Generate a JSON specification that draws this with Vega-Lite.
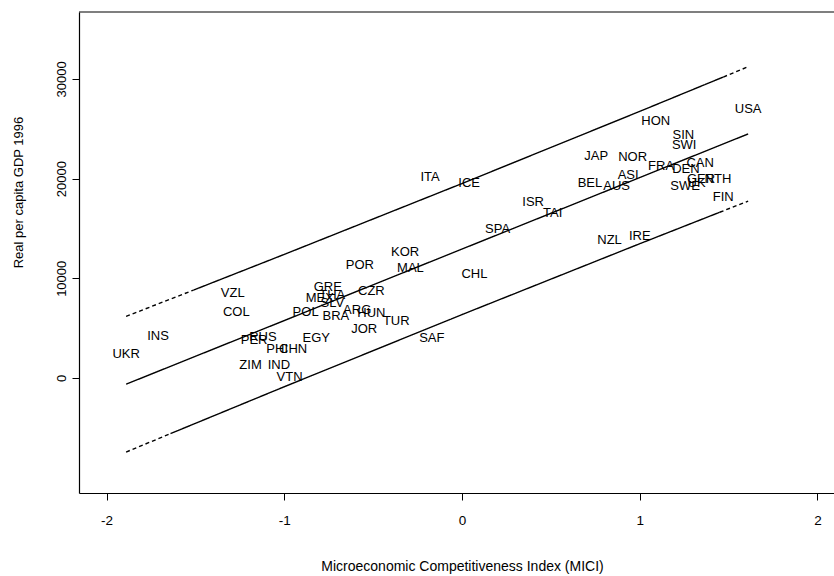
{
  "$schema": "https://vega.github.io/schema/vega-lite/v6.json",
  "width": 755,
  "height": 481,
  "autosize": "none",
  "padding": {"left": 79, "top": 12, "right": 0, "bottom": 83},
  "background": "white",
  "config": {
    "view": {"stroke": null},
    "axis": {
      "labelFont": "Liberation Sans",
      "labelFontSize": 13.5,
      "labelColor": "black",
      "titleFont": "Liberation Sans",
      "titleFontSize": 14,
      "titleFontWeight": "normal",
      "titleColor": "black",
      "domainColor": "black",
      "domainWidth": 1.2,
      "tickColor": "black",
      "tickSize": 7,
      "grid": false
    }
  },
  "datasets": {
    "countries": [
      {"code": "USA", "mici": 1.61, "gdp": 27000},
      {"code": "HON", "mici": 1.09, "gdp": 25800},
      {"code": "SIN", "mici": 1.245, "gdp": 24400},
      {"code": "SWI", "mici": 1.25, "gdp": 23400},
      {"code": "JAP", "mici": 0.755, "gdp": 22300},
      {"code": "NOR", "mici": 0.96, "gdp": 22200},
      {"code": "FRA", "mici": 1.12, "gdp": 21300},
      {"code": "CAN", "mici": 1.34, "gdp": 21600},
      {"code": "DEN", "mici": 1.26, "gdp": 21000},
      {"code": "ASI", "mici": 0.935, "gdp": 20400},
      {"code": "BEL", "mici": 0.72, "gdp": 19600},
      {"code": "AUS", "mici": 0.87, "gdp": 19300},
      {"code": "SWE", "mici": 1.255, "gdp": 19300},
      {"code": "UK", "mici": 1.32, "gdp": 19600},
      {"code": "GER", "mici": 1.345, "gdp": 20000},
      {"code": "NTH", "mici": 1.44, "gdp": 20000},
      {"code": "FIN", "mici": 1.47, "gdp": 18100},
      {"code": "IRE", "mici": 1.0, "gdp": 14200},
      {"code": "NZL", "mici": 0.83, "gdp": 13800},
      {"code": "ISR", "mici": 0.4, "gdp": 17600},
      {"code": "TAI", "mici": 0.51, "gdp": 16500},
      {"code": "ITA", "mici": -0.18, "gdp": 20200},
      {"code": "ICE", "mici": 0.04, "gdp": 19600},
      {"code": "SPA", "mici": 0.2, "gdp": 14900},
      {"code": "KOR", "mici": -0.32, "gdp": 12600},
      {"code": "MAL", "mici": -0.29, "gdp": 11000},
      {"code": "POR", "mici": -0.575, "gdp": 11300},
      {"code": "CHL", "mici": 0.07, "gdp": 10400},
      {"code": "GRE", "mici": -0.755, "gdp": 9100},
      {"code": "MEX", "mici": -0.8, "gdp": 8000},
      {"code": "THA", "mici": -0.73, "gdp": 8300},
      {"code": "SLV", "mici": -0.73, "gdp": 7500},
      {"code": "POL", "mici": -0.88, "gdp": 6600},
      {"code": "BRA", "mici": -0.71, "gdp": 6200},
      {"code": "ARG", "mici": -0.59, "gdp": 6800},
      {"code": "HUN", "mici": -0.51, "gdp": 6500},
      {"code": "CZR", "mici": -0.51, "gdp": 8700},
      {"code": "TUR", "mici": -0.37, "gdp": 5700},
      {"code": "JOR", "mici": -0.55, "gdp": 4900},
      {"code": "SAF", "mici": -0.17, "gdp": 4000},
      {"code": "EGY", "mici": -0.82, "gdp": 4000},
      {"code": "VZL", "mici": -1.29, "gdp": 8500},
      {"code": "COL", "mici": -1.27, "gdp": 6600},
      {"code": "INS", "mici": -1.71, "gdp": 4200},
      {"code": "UKR", "mici": -1.89, "gdp": 2400},
      {"code": "PER", "mici": -1.17, "gdp": 3800},
      {"code": "RUS", "mici": -1.12, "gdp": 4100},
      {"code": "ZIM", "mici": -1.19, "gdp": 1300},
      {"code": "IND", "mici": -1.03, "gdp": 1300},
      {"code": "PHI", "mici": -1.04, "gdp": 2900},
      {"code": "CHN", "mici": -0.95, "gdp": 2900},
      {"code": "VTN", "mici": -0.97, "gdp": 100}
    ],
    "lines": [
      {"seg": "upper-left", "style": "dashed", "mici": -1.89, "gdp": 6181},
      {"seg": "upper-left", "style": "dashed", "mici": -1.51, "gdp": 8821},
      {"seg": "upper-mid", "style": "solid", "mici": -1.51, "gdp": 8821},
      {"seg": "upper-mid", "style": "solid", "mici": -1.0, "gdp": 12395},
      {"seg": "upper-mid", "style": "solid", "mici": 0.0, "gdp": 19500},
      {"seg": "upper-mid", "style": "solid", "mici": 1.0, "gdp": 26735},
      {"seg": "upper-mid", "style": "solid", "mici": 1.47, "gdp": 30180},
      {"seg": "upper-right", "style": "dashed", "mici": 1.47, "gdp": 30180},
      {"seg": "upper-right", "style": "dashed", "mici": 1.61, "gdp": 31212},
      {"seg": "fit", "style": "solid", "mici": -1.89, "gdp": -621},
      {"seg": "fit", "style": "solid", "mici": 1.61, "gdp": 24474},
      {"seg": "lower-left", "style": "dashed", "mici": -1.89, "gdp": -7423},
      {"seg": "lower-left", "style": "dashed", "mici": -1.64, "gdp": -5574},
      {"seg": "lower-mid", "style": "solid", "mici": -1.64, "gdp": -5574},
      {"seg": "lower-mid", "style": "solid", "mici": -1.0, "gdp": -875},
      {"seg": "lower-mid", "style": "solid", "mici": 0.0, "gdp": 6360},
      {"seg": "lower-mid", "style": "solid", "mici": 1.0, "gdp": 13465},
      {"seg": "lower-mid", "style": "solid", "mici": 1.45, "gdp": 16620},
      {"seg": "lower-right", "style": "dashed", "mici": 1.45, "gdp": 16620},
      {"seg": "lower-right", "style": "dashed", "mici": 1.61, "gdp": 17736}
    ]
  },
  "layer": [
    {
      "data": {"name": "lines"},
      "mark": {"type": "line", "color": "black", "strokeWidth": 1.4},
      "encoding": {
        "x": {
          "field": "mici", "type": "quantitative",
          "scale": {"domain": [-2.155, 2.093], "nice": false, "zero": false},
          "axis": {
            "values": [-2, -1, 0, 1, 2],
            "labelExpr": "'' + datum.value",
            "labelPadding": 13,
            "title": "Microeconomic Competitiveness Index (MICI)",
            "titleX": 383, "titleY": 73,
            "titleAlign": "center", "titleBaseline": "middle"
          }
        },
        "y": {
          "field": "gdp", "type": "quantitative",
          "scale": {"domain": [-11530, 36700], "nice": false, "zero": false},
          "axis": {
            "values": [0, 10000, 20000, 30000],
            "labelExpr": "'' + datum.value",
            "labelAngle": -90,
            "labelAlign": "center",
            "labelBaseline": "bottom",
            "labelPadding": 4,
            "labelFontSize": 13,
            "title": "Real per capita GDP 1996",
            "titleX": -61, "titleY": 180,
            "titleAngle": -90,
            "titleAlign": "center", "titleBaseline": "middle",
            "titleFontSize": 13
          }
        },
        "detail": {"field": "seg"},
        "order": {"field": "mici"},
        "strokeDash": {
          "field": "style", "type": "nominal",
          "scale": {"domain": ["solid", "dashed"], "range": [[1, 0], [4, 3]]},
          "legend": null
        }
      }
    },
    {
      "data": {"name": "countries"},
      "mark": {"type": "text", "font": "Liberation Sans", "fontSize": 13, "color": "black", "align": "center", "baseline": "middle"},
      "encoding": {
        "x": {"field": "mici", "type": "quantitative"},
        "y": {"field": "gdp", "type": "quantitative"},
        "text": {"field": "code"}
      }
    },
    {
      "data": {"values": [{"top": 36700}]},
      "mark": {"type": "rule", "color": "black", "strokeWidth": 1.2},
      "encoding": {"y": {"field": "top", "type": "quantitative"}}
    }
  ]
}
